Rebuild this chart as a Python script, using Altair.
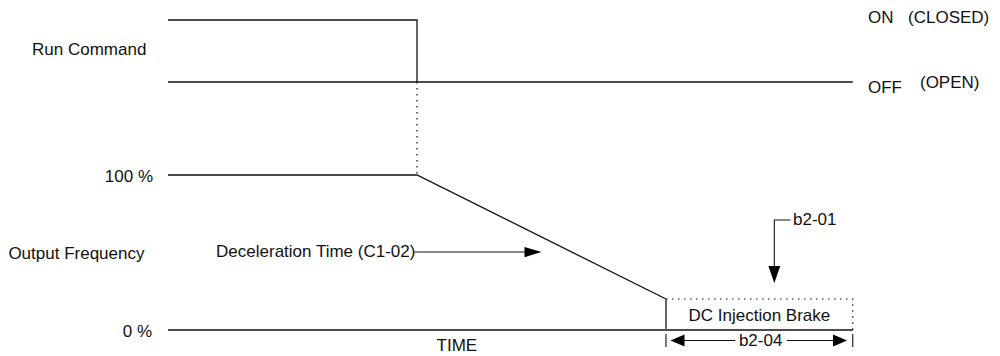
import altair as alt
import pandas as pd

# ---- data (time in arbitrary units, level: 0..100 = output frequency %, 160/200 = run command OFF/ON)
# solid traces
solid_seg = ["on", "on", "on", "off", "off", "freq", "freq", "freq", "zero", "zero"]
solid_t = [0, 10, 10, 0, 27.5, 0, 10, 20, 0, 27.5]
solid_v = [200, 200, 160, 160, 160, 100, 100, 20, 0, 0]

# DC injection start edge (gray)
gray_seg = ["dc", "dc"]
gray_t = [20, 20]
gray_v = [20, 0]

# dotted traces
dot_seg = ["cut", "cut", "box", "box", "box"]
dot_t = [10, 10, 20, 27.5, 27.5]
dot_v = [160, 100, 20, 20, 0]

# annotation lines (arrow shafts, leaders, dimension ticks)
ann_seg = ["dec", "dec", "b201", "b201", "b201", "b204l", "b204l", "b204r", "b204r",
           "tk1", "tk1", "tk2", "tk2"]
ann_t = [9.9, 14.6, 25.0, 24.35, 24.35, 20.5, 22.78, 24.85, 26.8, 20, 20, 27.5, 27.5]
ann_v = [50.3, 50.3, 71, 71, 33, -6.8, -6.8, -6.8, -6.8, -2.6, -11, -2.6, -11]

# arrowheads (tip positions)
head_dir = ["right", "down", "left", "right2"]
head_t = [15.0, 24.35, 20.18, 27.27]
head_v = [50.3, 30.3, -6.8, -6.8]
head_size = [289, 289, 196, 196]

# labels
left_txt = ["Run Command", "Output Frequency", "ON", "(CLOSED)", "OFF", "(OPEN)",
            "Deceleration Time (C1-02)", "b2-01"]
left_t = [-5.46, -6.41, 28.11, 29.72, 28.11, 30.2, 1.93, 25.1]
left_v = [180.6, 49, 201.5, 201.5, 156.1, 159.4, 50.5, 71]

right_txt = ["100 %", "0 %"]
right_t = [-0.6, -0.64]
right_v = [99, -1]

center_txt = ["TIME", "DC Injection Brake", "b2-04"]
center_t = [11.6, 23.75, 23.8]
center_v = [-10.3, 9, -6.8]

# ---- frames
def seg_df(seg, t, v):
    return pd.DataFrame({"seg": seg, "t": t, "v": v, "o": list(range(len(t)))})

solid_df = seg_df(solid_seg, solid_t, solid_v)
gray_df = seg_df(gray_seg, gray_t, gray_v)
dot_df = seg_df(dot_seg, dot_t, dot_v)
ann_df = seg_df(ann_seg, ann_t, ann_v)
head_df = pd.DataFrame({"dir": head_dir, "t": head_t, "v": head_v, "sz": head_size})
left_df = pd.DataFrame({"txt": left_txt, "t": left_t, "v": left_v})
right_df = pd.DataFrame({"txt": right_txt, "t": right_t, "v": right_v})
center_df = pd.DataFrame({"txt": center_txt, "t": center_t, "v": center_v})

W, H = 984, 348
xs = alt.Scale(domain=[-6.4257, 33.0924], nice=False, zero=False)
ys = alt.Scale(domain=[-16.774, 207.742], nice=False, zero=False)
X = alt.X("t:Q", scale=xs, axis=None)
Y = alt.Y("v:Q", scale=ys, axis=None)

FONT = "Liberation Sans"
FS = 17


def lines(df, color, width, dash=None):
    kw = dict(color=color, strokeWidth=width, clip=False, interpolate="linear")
    if dash:
        kw["strokeDash"] = dash
    return alt.Chart(df).mark_line(**kw).encode(
        x=X, y=Y, detail="seg:N", order="o:Q")


shapes = {
    "right": "M0,0L-2,-0.6L-2,0.6Z",
    "down": "M0,0L-0.7,-2L0.7,-2Z",
    "left": "M0,0L2,-0.86L2,0.86Z",
    "right2": "M0,0L-2,-0.86L-2,0.86Z",
}

heads = alt.Chart(head_df).mark_point(filled=True, opacity=1, color="black",
                                      strokeWidth=0, clip=False).encode(
    x=X, y=Y,
    shape=alt.Shape("dir:N", scale=alt.Scale(domain=list(shapes.keys()),
                                            range=list(shapes.values())), legend=None),
    size=alt.Size("sz:Q", scale=None, legend=None),
)


def texts(df, align):
    return alt.Chart(df).mark_text(align=align, baseline="middle", font=FONT,
                                   fontSize=FS, color="#111111", clip=False).encode(
        x=X, y=Y, text="txt:N")


chart = alt.layer(
    lines(solid_df, "#111111", 1.3),
    lines(gray_df, "#666666", 2),
    lines(dot_df, "#111111", 1.2, [1.5, 4.5]),
    lines(ann_df, "#111111", 1.1),
    heads,
    texts(left_df, "left"),
    texts(right_df, "right"),
    texts(center_df, "center"),
).properties(
    width=W, height=H,
    autosize=alt.AutoSizeParams(type="none"),
    padding=0,
).configure_view(stroke=None)

chart.save("out.html", embed_options={"renderer": "svg", "actions": False})
